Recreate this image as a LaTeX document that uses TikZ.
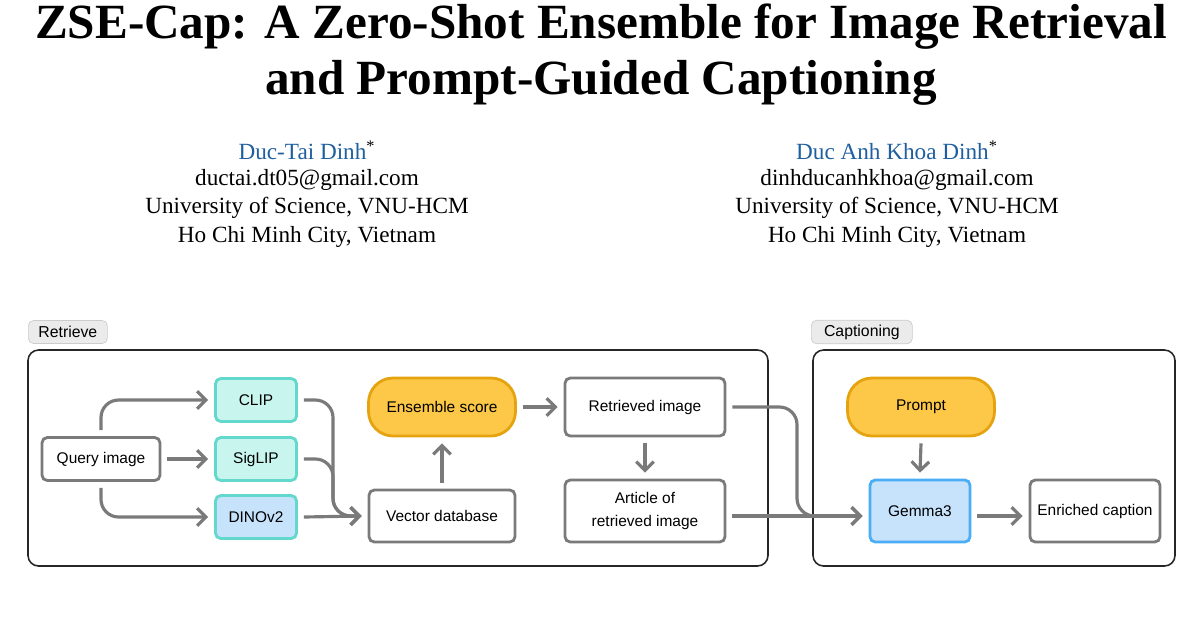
\documentclass[tikz,border=0pt]{standalone}
\usepackage{fontspec}
\setmainfont{Liberation Serif}
\newfontfamily\diag{Liberation Sans}
\usetikzlibrary{arrows.meta}
\definecolor{ln}{HTML}{7A7A7A}
\definecolor{tealf}{HTML}{C9F5EF}
\definecolor{tealb}{HTML}{62D9CC}
\definecolor{bluef}{HTML}{C6E3FB}
\definecolor{blueb}{HTML}{4AADF5}
\definecolor{yelf}{HTML}{FDC847}
\definecolor{yelb}{HTML}{E5A310}
\definecolor{auth}{HTML}{1F5F9E}
\begin{document}
\begin{tikzpicture}[x=0.02cm,y=-0.02cm,
  box/.style={draw=ln,line width=1.6pt,rounded corners=3pt,fill=white,font=\diag\fontsize{8.8}{10}\selectfont,align=center,inner sep=0pt},
  teal/.style={box,draw=tealb,fill=tealf},
  yel/.style={box,draw=yelb,fill=yelf,rounded corners=14pt},
  arr/.style={draw=ln,line width=1.8pt,rounded corners=10pt,-{Straight Barb[length=5pt,width=10pt,line width=1.8pt]}},
  frame/.style={draw=black!85,line width=0.9pt,rounded corners=6pt},
  tag/.style={draw=black!20,fill=black!8,rounded corners=3pt,font=\diag\fontsize{9}{11}\selectfont,inner sep=2.5pt,anchor=west},
  atext/.style={font=\fontsize{13.2}{15}\selectfont}]
\useasboundingbox (0,0) rectangle (1200,630);
\node[font=\bfseries\fontsize{28}{32}\selectfont] (t1) at (601,27) {ZSE-Cap: A Zero-Shot Ensemble for Image Retrieval};
\node[font=\bfseries\fontsize{28}{32}\selectfont] (t2) at (601,83) {and Prompt-Guided Captioning};
\node[atext,text=auth] (a1) at (307,150) {Duc-Tai Dinh\textsuperscript{\textcolor{black}{*}}};
\node[atext] (e1) at (307,180) {ductai.dt05@gmail.com};
\node[atext] (u1) at (307,208) {University of Science, VNU-HCM};
\node[atext] (c1) at (307,237) {Ho Chi Minh City, Vietnam};
\node[atext,text=auth] (a2) at (897,150) {Duc Anh Khoa Dinh\textsuperscript{\textcolor{black}{*}}};
\node[atext] (e2) at (897,180) {dinhducanhkhoa@gmail.com};
\node[atext] (u2) at (897,208) {University of Science, VNU-HCM};
\node[atext] (c2) at (897,237) {Ho Chi Minh City, Vietnam};

\draw[frame] (28,350) rectangle (768,566);
\draw[frame] (813,350) rectangle (1175,566);
\node[tag,minimum height=23*0.02cm,minimum width=79*0.02cm] (rt) at (28,332) {Retrieve};
\node[tag,minimum height=23*0.02cm,minimum width=101*0.02cm] (ct) at (811,332) {Captioning};

\node[box,minimum width=118*0.02cm,minimum height=43*0.02cm] (q) at (101,459) {Query image};
\node[teal,minimum width=81*0.02cm,minimum height=43*0.02cm] (clip) at (256,400) {CLIP};
\node[teal,minimum width=81*0.02cm,minimum height=43*0.02cm] (sig) at (256,459) {SigLIP};
\node[teal,fill=bluef,minimum width=81*0.02cm,minimum height=43*0.02cm] (dino) at (256,517) {DINOv2};
\node[yel,minimum width=147*0.02cm,minimum height=58*0.02cm] (ens) at (442,407) {Ensemble score};
\node[box,minimum width=146*0.02cm,minimum height=52*0.02cm] (vdb) at (442,516) {Vector database};
\node[box,minimum width=160*0.02cm,minimum height=58*0.02cm] (ret) at (645,407) {Retrieved image};
\node[box,minimum width=160*0.02cm,minimum height=62*0.02cm] (art) at (645,511) {Article of\\[3pt]retrieved image};
\node[yel,minimum width=147*0.02cm,minimum height=58*0.02cm] (pr) at (921,407) {Prompt};
\node[box,draw=blueb,fill=bluef,minimum width=100*0.02cm,minimum height=62*0.02cm] (gem) at (920,511) {Gemma3};
\node[box,minimum width=130*0.02cm,minimum height=62*0.02cm] (enr) at (1095,511) {Enriched caption};

\draw[arr] ([yshift=6*0.02cm]q.north) -- (101,400) -- ([xshift=-6*0.02cm]clip.west);
\draw[arr] ([xshift=6*0.02cm]q.east) -- ([xshift=-6*0.02cm]sig.west);
\draw[arr] ([yshift=-6*0.02cm]q.south) -- (101,517) -- ([xshift=-6*0.02cm]dino.west);
\draw[arr] ([xshift=6*0.02cm]clip.east) -- (333,400) -- (333,516) -- ([xshift=-6*0.02cm]vdb.west);
\draw[arr] ([xshift=6*0.02cm]sig.east) -- (333,459) -- (333,516) -- ([xshift=-6*0.02cm]vdb.west);
\draw[arr] ([xshift=6*0.02cm]dino.east) -- ([xshift=-6*0.02cm]vdb.west);
\draw[arr] ([yshift=6*0.02cm]vdb.north) -- ([yshift=-6*0.02cm]ens.south);
\draw[arr] ([xshift=6*0.02cm]ens.east) -- ([xshift=-6*0.02cm]ret.west);
\draw[arr] ([yshift=-6*0.02cm]ret.south) -- ([yshift=6*0.02cm]art.north);
\draw[arr] ([xshift=6*0.02cm]ret.east) -- (797,407) -- (797,516) -- ([xshift=-6*0.02cm,yshift=-5*0.02cm]gem.west);
\draw[arr] ([xshift=6*0.02cm,yshift=-5*0.02cm]art.east) -- ([xshift=-6*0.02cm,yshift=-5*0.02cm]gem.west);
\draw[arr] ([yshift=-6*0.02cm]pr.south) -- ([yshift=6*0.02cm]gem.north);
\draw[arr] ([xshift=6*0.02cm,yshift=-5*0.02cm]gem.east) -- ([xshift=-6*0.02cm,yshift=-5*0.02cm]enr.west);
\end{tikzpicture}
\end{document}
